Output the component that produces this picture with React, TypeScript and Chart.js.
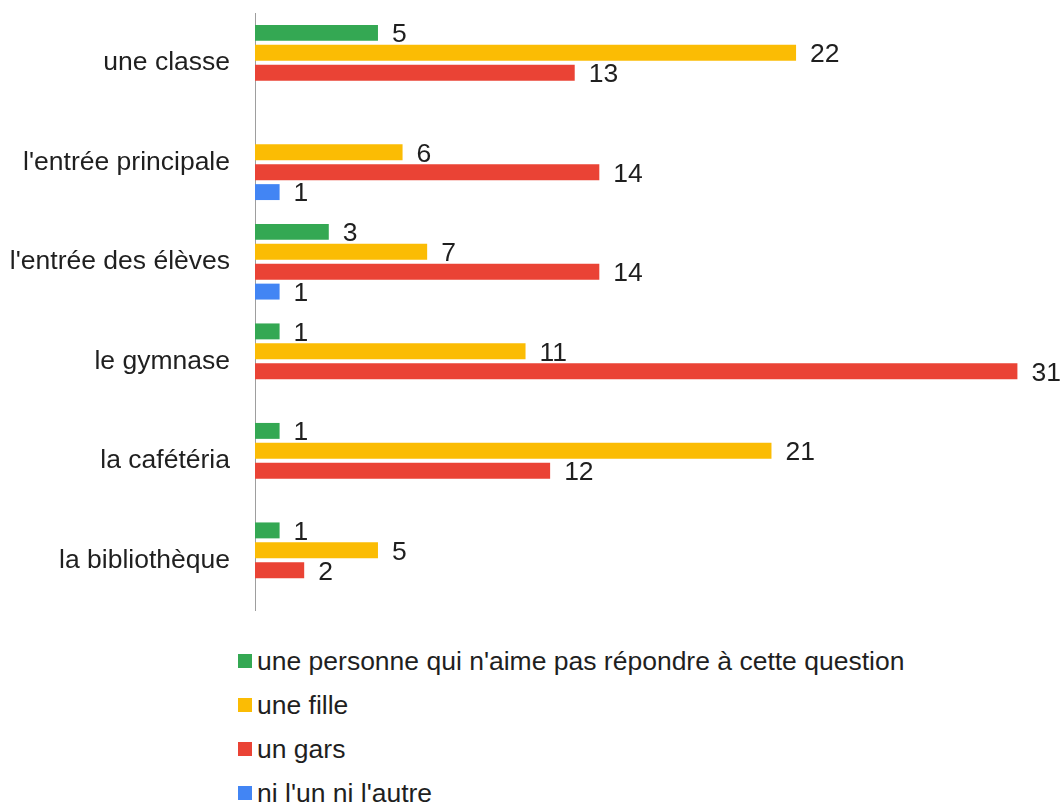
import React, { useEffect, useRef } from "react";
import { Chart, registerables } from "chart.js";

Chart.register(...registerables);

const FONT = "Arial, 'Liberation Sans', sans-serif";
const TEXT = "#1f1f1f";
const FONT_SIZE = 26.5;

const categories = [
  "une classe",
  "l'entrée principale",
  "l'entrée des élèves",
  "le gymnase",
  "la cafétéria",
  "la bibliothèque",
];

const seriesNames = [
  "une personne qui n'aime pas répondre à cette question",
  "une fille",
  "un gars",
  "ni l'un ni l'autre",
];

const seriesColors = ["#34A853", "#FBBC04", "#EA4335", "#4285F4"];

const noAnswer = [5, null, 3, 1, 1, 1];
const girl = [22, 6, 7, 11, 21, 5];
const boy = [13, 14, 14, 31, 12, 2];
const neither = [null, 1, 1, null, null, null];

const seriesValues = [noAnswer, girl, boy, neither];

// Writes each bar's value just past its end.
const valueLabels = {
  id: "valueLabels",
  afterDatasetsDraw(chart: any) {
    const ctx = chart.ctx;
    ctx.save();
    ctx.font = `${FONT_SIZE}px ${FONT}`;
    ctx.fillStyle = TEXT;
    ctx.textAlign = "left";
    ctx.textBaseline = "middle";
    chart.data.datasets.forEach((ds: any, i: number) => {
      const meta = chart.getDatasetMeta(i);
      meta.data.forEach((bar: any, j: number) => {
        const v = ds.data[j];
        if (v == null) return;
        ctx.fillText(String(v), bar.x + 14, bar.y + 2);
      });
    });
    ctx.restore();
  },
};

export default function App() {
  const canvasRef = useRef<HTMLCanvasElement | null>(null);

  useEffect(() => {
    if (!canvasRef.current) return;
    const chart = new Chart(canvasRef.current, {
      type: "bar",
      data: {
        labels: categories,
        datasets: seriesNames.map((name, i) => ({
          label: name,
          data: seriesValues[i],
          backgroundColor: seriesColors[i],
          borderWidth: 0,
          categoryPercentage: 0.8,
          barPercentage: 0.8,
        })),
      },
      options: {
        indexAxis: "y",
        responsive: false,
        animation: false,
        layout: { padding: { left: 0, right: 20, top: 13, bottom: 10 } },
        plugins: {
          legend: { display: false },
          tooltip: { enabled: false },
        },
        scales: {
          x: {
            display: false,
            min: 0,
            max: 32,
          },
          y: {
            afterFit(scale: any) {
              scale.width = 255;
              scale.paddingTop = 0;
              scale.paddingBottom = 0;
            },
            grid: { drawOnChartArea: false, drawTicks: false },
            border: { display: true, color: "#9e9e9e", width: 1 },
            ticks: {
              padding: 25,
              color: TEXT,
              font: { family: FONT, size: FONT_SIZE },
            },
          },
        },
      },
      plugins: [valueLabels],
    });
    return () => chart.destroy();
  }, []);

  return (
    <div
      style={{
        position: "absolute",
        left: 0,
        top: 0,
        width: 1062,
        height: 808,
        background: "#ffffff",
        fontFamily: FONT,
      }}
    >
      <canvas ref={canvasRef} width={1062} height={620} style={{ display: "block" }} />
      <div style={{ position: "absolute", left: 238, top: 639 }}>
        {seriesNames.map((name, i) => (
          <div
            key={name}
            style={{
              display: "flex",
              alignItems: "center",
              height: 44,
              fontSize: FONT_SIZE,
              color: TEXT,
              whiteSpace: "nowrap",
            }}
          >
            <span
              style={{
                display: "inline-block",
                width: 14,
                height: 14,
                background: seriesColors[i],
                marginRight: 5,
              }}
            />
            <span style={{ lineHeight: "44px" }}>{name}</span>
          </div>
        ))}
      </div>
    </div>
  );
}
